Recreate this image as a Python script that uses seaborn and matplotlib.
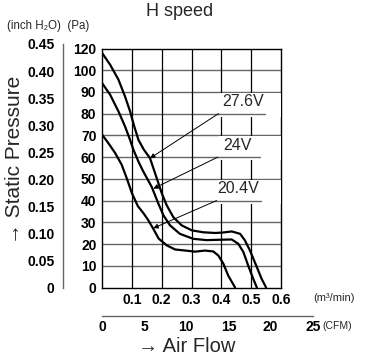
import matplotlib
matplotlib.use("Agg")
import matplotlib.pyplot as plt
import seaborn as sns
import pandas as pd

sns.set_theme(style="white")
plt.rcParams['font.family'] = ['Liberation Sans', 'DejaVu Sans']

# ---- data (air flow in m3/min, static pressure in Pa) ----
q_276 = [0, 0.027, 0.055, 0.077, 0.094, 0.108, 0.122, 0.14, 0.161, 0.183, 0.2, 0.217, 0.239, 0.267,
         0.301, 0.34, 0.38, 0.405, 0.435, 0.463, 0.479, 0.496, 0.519, 0.535, 0.55]
p_276 = [108, 102.6, 95.7, 88, 81.1, 74.2, 68, 63.5, 59.5, 50.5, 43.5, 37.8, 32.4, 28.6,
         26.3, 25.4, 25.1, 25.3, 25.8, 24.7, 21.7, 17, 9.4, 4, 0]
q_24 = [0, 0.027, 0.055, 0.077, 0.094, 0.105, 0.122, 0.138, 0.167, 0.189, 0.206, 0.228, 0.261,
        0.306, 0.351, 0.401, 0.435, 0.457, 0.474, 0.49, 0.507, 0.519]
p_24 = [94.1, 88.8, 81.1, 74.2, 68, 63.5, 58, 53.5, 46.2, 38.6, 33.2, 28.6, 24.7,
        22.4, 21.8, 22, 22.1, 20.1, 16.3, 10.1, 4, 0]
q_204 = [0, 0.021, 0.044, 0.066, 0.085, 0.1, 0.12, 0.14, 0.155, 0.172, 0.19, 0.217, 0.245, 0.28,
         0.312, 0.345, 0.373, 0.39, 0.407, 0.423, 0.446]
p_204 = [70.4, 66.5, 61.9, 56.5, 49.5, 43.5, 37.5, 34, 31, 27, 22.5, 19.4, 17.5, 17,
         16.5, 17, 16.6, 14.7, 10.9, 5.5, 0]

series_labels = ["27.6V", "24V", "20.4V"]
label_pos = [(0.473, 85.5), (0.455, 65.5), (0.457, 45.5)]
underline_y = [80, 60, 40]
arrow_from = [(0.39, 80), (0.388, 60), (0.384, 40)]
arrow_to = [(0.161, 59.5), (0.172, 45.5), (0.172, 27.3)]

pa_ticks = [0, 10, 20, 30, 40, 50, 60, 70, 80, 90, 100, 110]
pa_ticklabels = ["0", "10", "20", "30", "40", "50", "60", "70", "80", "90", "100", "120"]
inch_ticks = [0, 0.05, 0.10, 0.15, 0.20, 0.25, 0.30, 0.35, 0.40, 0.45]
inch_ticklabels = ["0", "0.05", "0.10", "0.15", "0.20", "0.25", "0.30", "0.35", "0.40", "0.45"]
m3_ticks = [0.1, 0.2, 0.3, 0.4, 0.5, 0.6]
cfm_ticks = [0, 5, 10, 15, 20, 25]

df = pd.concat([
    pd.DataFrame({"q": q_276, "p": p_276, "v": "27.6V"}),
    pd.DataFrame({"q": q_24, "p": p_24, "v": "24V"}),
    pd.DataFrame({"q": q_204, "p": p_204, "v": "20.4V"}),
])

W, H = 367, 358
fig = plt.figure(figsize=(W / 100, H / 100), dpi=100)

def fx(px):
    return px / W

def fy(py):
    return 1 - py / H

x0, x1 = 102, 281
y0, y1 = 287.5, 48.5
ax = fig.add_axes([fx(x0), fy(y0), fx(x1) - fx(x0), fy(y1) - fy(y0)])

sns.lineplot(data=df, x="q", y="p", units="v", estimator=None, sort=False,
             color="black", lw=1.6, ax=ax, legend=False, zorder=6)

ax.set_xlim(0, 0.6)
ax.set_ylim(0, 110)
for t in pa_ticks[1:-1]:
    ax.axhline(t, color="#666666", lw=1.0, zorder=0)
for t in m3_ticks[:-1]:
    ax.axvline(t, color="black", lw=0.9, zorder=0)
for s in ax.spines.values():
    s.set_color("black")
    s.set_linewidth(1.0)
ax.set_xlabel("")
ax.set_ylabel("")
ax.set_yticks(pa_ticks)
ax.set_yticklabels(pa_ticklabels, fontsize=10, fontweight="bold")
ax.set_xticks(m3_ticks)
ax.set_xticklabels([f"{t:.1f}" for t in m3_ticks], fontsize=10, fontweight="bold")
ax.tick_params(axis="both", length=0, pad=4, colors="black")

for lab, lp, uy, af, at in zip(series_labels, label_pos, underline_y, arrow_from, arrow_to):
    # white patch hiding the grid behind the label
    ax.add_patch(plt.Rectangle((af[0] + 0.005, uy - 1.5), 0.6 - af[0] - 0.006, 11.0,
                               facecolor="white", edgecolor="none", zorder=3))
    ax.plot([af[0], lp[0] + 0.075], [uy, uy], color="#666666", lw=1.0, zorder=4)
    ax.annotate("", xy=at, xytext=af,
                arrowprops=dict(arrowstyle="-|>", color="black", lw=0.7,
                                mutation_scale=7, shrinkA=0, shrinkB=0), zorder=7)
    ax.text(lp[0], lp[1], lab, fontsize=11.5, ha="center", va="center", zorder=5)

# inch H2O axis
inch_top = 0.45 * 249.089
ya_top = y0 - inch_top * (y0 - y1) / 110
axi = fig.add_axes([fx(63), fy(y0), 0.001, fy(ya_top) - fy(y0)])
axi.set_ylim(0, 0.45)
axi.patch.set_alpha(0)
for k in ["top", "right", "bottom"]:
    axi.spines[k].set_visible(False)
axi.spines["left"].set_color("#666666")
axi.spines["left"].set_linewidth(1.0)
axi.set_xticks([])
axi.set_yticks(inch_ticks)
axi.set_yticklabels(inch_ticklabels, fontsize=10, fontweight="bold")
axi.tick_params(axis="y", direction="in", length=4, width=0.9, color="#666666", pad=6, labelcolor="black")

# CFM axis
cfm_right = 312.7
axc = fig.add_axes([fx(x0), fy(316), fx(cfm_right) - fx(x0), 0.001])
axc.set_xlim(0, 25)
axc.patch.set_alpha(0)
for k in ["top", "right", "left"]:
    axc.spines[k].set_visible(False)
axc.spines["bottom"].set_color("#666666")
axc.spines["bottom"].set_linewidth(1.0)
axc.set_yticks([])
axc.set_xticks(cfm_ticks)
axc.set_xticklabels([str(t) for t in cfm_ticks], fontsize=10, fontweight="bold")
axc.tick_params(axis="x", direction="in", length=4, width=0.9, color="#666666", pad=3, labelcolor="black")

fig.text(fx(180), fy(11), "H speed", fontsize=13, ha="center", va="center")
fig.text(fx(7), fy(26), "(inch H\u2082O)  (Pa)", fontsize=8.3, ha="left", va="center")
fig.text(fx(313), fy(298), "(m\u00b3/min)", fontsize=8, ha="left", va="center")
fig.text(fx(322), fy(326), "(CFM)", fontsize=7.5, ha="left", va="center")
fig.text(fx(187), fy(347), "\u2192 Air Flow", fontsize=14.5, ha="center", va="center")
fig.text(fx(15), fy(160), "\u2192 Static Pressure", fontsize=15, ha="center", va="center",
         rotation=90)

fig.savefig("out.png", dpi=100)
